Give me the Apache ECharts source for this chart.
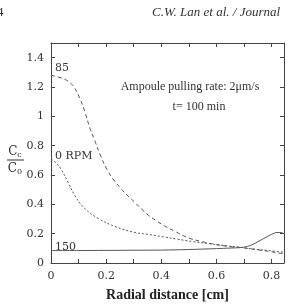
<!DOCTYPE html>
<html lang="en">
  <head>
    <meta charset="UTF-8" />
    <title>Radial distance</title>
    <style>
      html, body { margin: 0; padding: 0; background: #fff; }
    </style>
  </head>
  <body>
    <div id="main" style="width: 291px; height: 307px"></div>

    <script src="https://cdn.jsdelivr.net/npm/echarts@6/dist/echarts.min.js"></script>
    <script>
      var myChart = echarts.init(document.getElementById("main"), null, {
        renderer: "canvas",
      });

      // 85 RPM
      let x85 = [0, 0.05, 0.08, 0.105, 0.123, 0.141, 0.159, 0.18, 0.205, 0.23, 0.256, 0.28, 0.304, 0.33, 0.353, 0.38, 0.41, 0.45, 0.5, 0.55, 0.6, 0.65, 0.69, 0.75, 0.8, 0.843];
      let y85 = [1.28, 1.252, 1.208, 1.12, 1.03, 0.92, 0.833, 0.73, 0.63, 0.56, 0.503, 0.455, 0.414, 0.365, 0.326, 0.29, 0.255, 0.215, 0.17, 0.145, 0.125, 0.112, 0.105, 0.09, 0.076, 0.062];
      // 0 RPM
      let x0 = [0, 0.02, 0.038, 0.063, 0.087, 0.123, 0.171, 0.232, 0.3, 0.353, 0.408, 0.46, 0.517, 0.58, 0.638, 0.69, 0.734, 0.79, 0.843];
      let y0 = [0.71, 0.68, 0.635, 0.546, 0.458, 0.37, 0.304, 0.249, 0.21, 0.195, 0.178, 0.162, 0.145, 0.13, 0.117, 0.106, 0.095, 0.085, 0.073];
      // 150 RPM
      let x150 = [0, 0.1, 0.2, 0.3, 0.4, 0.5, 0.6, 0.65, 0.69, 0.72, 0.75, 0.78, 0.8, 0.82, 0.835, 0.843];
      let y150 = [0.085, 0.085, 0.086, 0.087, 0.088, 0.092, 0.098, 0.102, 0.106, 0.118, 0.145, 0.176, 0.195, 0.208, 0.208, 0.2];

      let xTicks = [0, 0.2, 0.4, 0.6, 0.8];
      let yTicks = [0, 0.2, 0.4, 0.6, 0.8, 1, 1.2, 1.4];

      function pairs(xs, ys) {
        return xs.map((x, i) => [x, ys[i]]);
      }
      function onList(list, v) {
        return list.some((t) => Math.abs(t - v) < 1e-6);
      }

      var lineColor = "#444";
      var serif = "DejaVu Serif";

      var option = {
        backgroundColor: "#fff",
        animation: false,
        grid: { left: 51, right: 7, top: 43, bottom: 38 },
        xAxis: [
          {
            type: "value",
            min: 0,
            max: 0.845,
            interval: 0.1,
            position: "bottom",
            splitLine: { show: false },
            axisLine: { onZero: false, lineStyle: { color: lineColor, width: 1 } },
            axisTick: { inside: true, length: 4, lineStyle: { color: lineColor } },
            axisLabel: {
              margin: 8,
              showMaxLabel: false,
              color: "#333",
              fontFamily: serif,
              fontSize: 11,
              formatter: function (v) {
                return onList(xTicks, v) ? String(+v.toFixed(1)) : "";
              },
            },
            name: "Radial distance [cm]",
            nameLocation: "middle",
            nameGap: 25,
            nameTextStyle: {
              color: "#222",
              fontFamily: "Liberation Serif",
              fontWeight: "bold",
              fontSize: 14,
            },
          },
          {
            type: "value",
            min: 0,
            max: 0.845,
            interval: 0.1,
            position: "top",
            splitLine: { show: false },
            axisLine: { onZero: false, lineStyle: { color: lineColor, width: 1 } },
            axisTick: { inside: true, length: 4, lineStyle: { color: lineColor } },
            axisLabel: { show: false },
          },
        ],
        yAxis: [
          {
            type: "value",
            min: 0,
            max: 1.5,
            interval: 0.2,
            position: "left",
            splitLine: { show: false },
            axisLine: { show: true, onZero: false, lineStyle: { color: lineColor, width: 1 } },
            axisTick: { show: true, inside: true, length: 4, lineStyle: { color: lineColor } },
            axisLabel: {
              margin: 7,
              showMaxLabel: false,
              color: "#333",
              fontFamily: serif,
              fontSize: 11,
              formatter: function (v) {
                return onList(yTicks, v) ? String(+v.toFixed(1)) : "";
              },
            },
          },
          {
            type: "value",
            min: 0,
            max: 1.5,
            interval: 0.2,
            position: "right",
            splitLine: { show: false },
            axisLine: { show: true, onZero: false, lineStyle: { color: lineColor, width: 1 } },
            axisTick: { show: true, inside: true, length: 4, lineStyle: { color: lineColor } },
            axisLabel: { show: false },
          },
        ],
        series: [
          {
            name: "85",
            type: "line",
            data: pairs(x85, y85),
            smooth: 0.4,
            showSymbol: false,
            lineStyle: { color: "#555", width: 1, type: [4, 3] },
          },
          {
            name: "0 RPM",
            type: "line",
            data: pairs(x0, y0),
            smooth: 0.4,
            showSymbol: false,
            lineStyle: { color: "#555", width: 1, type: [2, 2] },
          },
          {
            name: "150",
            type: "line",
            data: pairs(x150, y150),
            smooth: 0.4,
            showSymbol: false,
            lineStyle: { color: "#555", width: 1, type: "solid" },
          },
        ],
        graphic: [
          // page header
          {
            type: "text",
            left: -3,
            top: 6,
            style: { text: "4", font: "13px Liberation Serif", fill: "#333" },
          },
          {
            type: "text",
            left: 152,
            top: 6,
            style: {
              text: "C.W. Lan et al. / Journal",
              font: "italic 13px Liberation Serif",
              fill: "#333",
            },
          },
          // curve labels
          {
            type: "text",
            left: 55,
            top: 63,
            style: { text: "85", font: "11px DejaVu Serif", fill: "#333" },
          },
          {
            type: "text",
            left: 55,
            top: 151,
            style: { text: "0 RPM", font: "11px DejaVu Serif", fill: "#333" },
          },
          {
            type: "text",
            left: 55,
            top: 242,
            style: { text: "150", font: "11px DejaVu Serif", fill: "#333" },
          },
          // condition note
          {
            type: "text",
            x: 190,
            y: 87,
            style: {
              text: "Ampoule pulling rate: 2\u03bcm/s",
              font: "12px Liberation Serif",
              fill: "#333",
              align: "center",
              verticalAlign: "middle",
            },
          },
          {
            type: "text",
            x: 199,
            y: 107,
            style: {
              text: "t= 100 min",
              font: "12px Liberation Serif",
              fill: "#333",
              align: "center",
              verticalAlign: "middle",
            },
          },
          // y axis title: Cc / C0
          {
            type: "text",
            x: 15,
            y: 152,
            style: {
              text: "{c|C}{s|c}",
              align: "center",
              verticalAlign: "middle",
              rich: {
                c: { font: "12px DejaVu Serif", fill: "#333" },
                s: { font: "8px DejaVu Serif", fill: "#333", padding: [6, 0, 0, 0] },
              },
            },
          },
          {
            type: "line",
            shape: { x1: 7, y1: 160, x2: 24, y2: 160 },
            style: { stroke: "#333", lineWidth: 1 },
          },
          {
            type: "text",
            x: 15,
            y: 169,
            style: {
              text: "{c|C}{s|0}",
              align: "center",
              verticalAlign: "middle",
              rich: {
                c: { font: "12px DejaVu Serif", fill: "#333" },
                s: { font: "8px DejaVu Serif", fill: "#333", padding: [6, 0, 0, 0] },
              },
            },
          },
        ],
      };
      myChart.setOption(option);
    </script>
  </body>
</html>
